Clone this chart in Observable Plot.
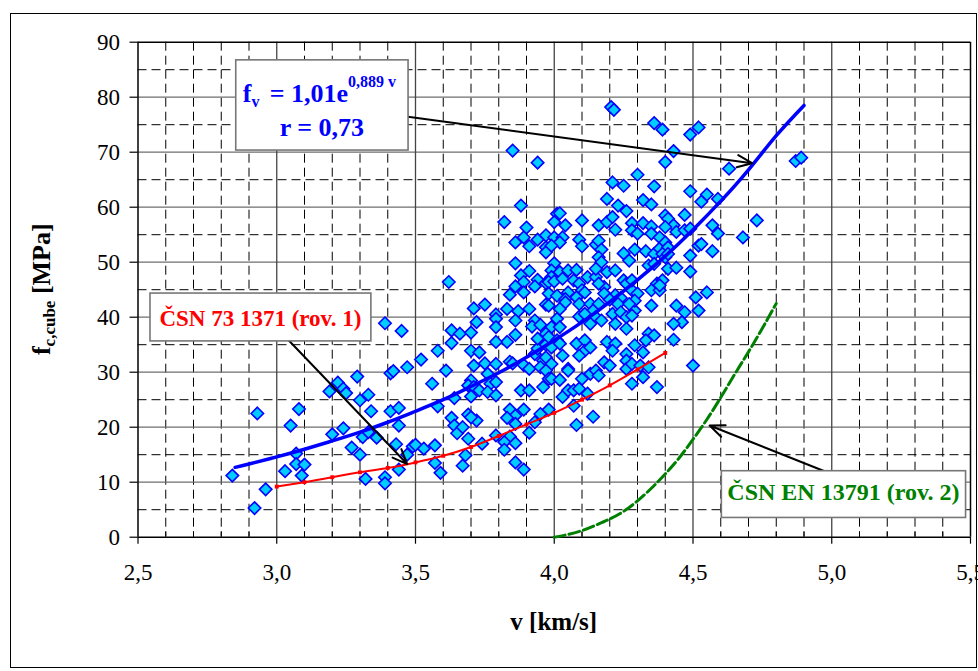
<!DOCTYPE html>
<html><head><meta charset="utf-8">
<script src="https://cdn.jsdelivr.net/npm/d3@7"></script>
<script src="https://cdn.jsdelivr.net/npm/@observablehq/plot@0.6"></script>
<style>
body{margin:0;background:#fff;overflow:hidden;}
#frame{position:absolute;left:10px;top:13px;width:967px;height:655px;border:1.5px solid #000;box-sizing:border-box;}
#chart{position:absolute;left:0;top:0;}
</style></head><body><div id="frame"></div><div id="chart"></div>
<script>
// ---- data ----
const xMajor = [2.5, 3.0, 3.5, 4.0, 4.5, 5.0, 5.5];
const yMajor = [0, 10, 20, 30, 40, 50, 60, 70, 80, 90];
const yMinor = [5, 15, 25, 35, 45, 55, 65, 75, 85];

// measured pairs [v km/s, fc,cube MPa]
const measuredPoints = [
[3.39,38.9],[3.45,37.5],[2.93,22.5],[3.08,23.3],[3.05,20.3],[2.84,11.2],[2.92,5.3],[2.96,8.7],[3.03,12.0],[3.07,15.2],
[3.07,13.3],[3.10,13.2],[3.09,11.2],[3.19,26.5],[3.22,28.1],[3.24,27.0],[3.25,26.2],[3.29,29.2],[3.30,24.9],[3.33,25.9],
[3.34,22.9],[3.20,18.7],[3.24,19.8],[3.27,16.3],[3.30,15.0],[3.31,18.2],[3.33,19.1],[3.36,18.1],[3.32,10.6],[3.39,10.9],
[3.39,9.8],[3.44,12.3],[3.41,29.8],[3.42,30.2],[3.47,30.9],[3.52,32.3],[3.41,22.9],[3.44,23.5],[3.44,20.3],[3.43,16.9],
[3.47,15.0],[3.49,16.5],[3.50,16.8],[3.53,16.1],
[3.85,70.3],[3.94,68.1],[3.88,60.3],[3.82,57.3],[3.90,56.3],[3.86,53.6],[3.89,54.5],[3.91,52.9],[3.94,54.1],[3.97,54.9],
[3.97,52.7],[3.97,51.8],[3.86,49.8],[3.62,46.4],[3.88,47.6],[3.91,48.4],[3.89,46.4],[3.94,46.8],[3.86,45.6],[3.93,45.6],
[3.89,44.5],[3.97,46.2],[3.84,44.1],[3.71,41.6],[3.75,42.3],[3.83,41.5],[3.87,41.1],[3.91,41.5],[3.97,42.3],[3.79,40.5],
[3.79,39.7],[3.72,39.1],[3.86,39.4],[3.93,39.4],[3.92,38.3],[3.95,38.6],
[3.63,37.6],[3.66,37.0],[3.70,37.2],[3.79,38.2],[3.63,35.3],[3.86,36.8],[3.83,35.5],[3.79,35.5],[3.97,35.7],[3.58,33.9],
[3.61,30.3],[3.70,33.9],[3.73,33.6],[3.71,31.2],[3.75,31.6],[3.79,31.5],[3.84,31.9],[3.85,31.6],[3.89,31.3],[3.91,30.6],
[3.56,27.9],[3.70,28.5],[3.69,27.6],[3.71,27.3],[3.73,26.7],[3.70,25.6],[3.76,29.7],[3.77,27.9],[3.79,28.2],[3.76,26.4],
[3.79,25.8],[3.88,26.7],[3.91,26.7],[3.96,27.3],[3.58,23.8],[3.64,25.3],[3.63,21.7],[3.64,20.3],[3.65,18.9],[3.67,20.0],
[3.69,22.3],[3.72,21.2],[3.70,21.8],[3.69,17.9],[3.74,17.0],[3.57,16.7],[3.57,13.5],[3.59,11.7],[3.68,14.9],[3.67,13.0],
[3.84,23.2],[3.86,22.1],[3.89,23.2],[3.86,20.6],[3.83,21.7],[3.79,18.5],[3.84,18.3],[3.82,17.3],[3.86,17.1],[3.82,15.9],
[3.91,19.0],[3.93,20.9],[3.95,22.4],[3.98,23.2],[3.86,13.6],[3.89,12.3],[3.93,33.3],[3.96,32.1],[3.95,30.9],[3.94,34.3],
[3.94,36.1],[3.97,35.0],
[4.205,78.2],[4.215,77.7],[4.36,75.3],[4.39,74.1],[4.40,68.2],[4.30,65.9],[4.21,64.5],[4.25,63.9],[4.36,63.8],[4.19,61.5],
[4.23,60.3],[4.26,59.3],[4.32,61.3],[4.35,60.5],[4.01,58.8],[4.02,58.9],[4.00,57.3],[4.04,56.7],[4.10,57.6],[4.16,56.7],
[4.19,57.3],[4.21,58.2],[4.22,55.9],[4.28,57.1],[4.28,55.8],[4.32,57.1],[4.35,56.5],[4.30,55.2],[4.35,55.2],[4.38,54.5],
[4.40,58.5],[4.00,54.5],[4.03,54.5],[4.02,53.6],[3.99,53.0],[4.09,54.1],[4.10,52.9],[4.15,53.2],[4.16,53.9],[4.17,52.3],
[4.25,51.6],[4.27,50.3],[4.29,52.3],[4.33,52.0],[4.36,51.5],[4.38,52.5],[4.00,49.8],[3.99,48.5],[4.02,48.2],[3.99,47.3],
[3.98,46.4],[4.00,46.5],[4.05,48.5],[4.08,48.6],[4.03,47.0],[4.07,46.7],[4.09,46.1],[4.10,44.9],[4.12,47.3],[4.15,47.3],
[4.16,50.9],[4.17,50.0],[4.15,48.8],[4.18,45.5],[4.16,46.1],[4.19,48.2],[4.22,48.5],[4.25,46.7],[4.26,46.1],[4.28,44.9],
[4.30,44.3],[4.28,46.7],[4.22,44.0],[4.24,43.5],[4.34,49.4],[4.36,49.7],[4.37,46.1],[4.39,46.7],[4.35,44.9],[4.38,44.9],
[3.98,44.3],[4.01,43.9],[4.05,44.5],[4.11,44.5],[4.08,43.6],[4.04,43.3],
[4.04,42.7],[4.02,41.5],[4.01,39.7],[3.99,38.2],[4.02,38.2],[3.98,42.1],[4.18,44.3],[4.09,42.4],[4.13,42.4],[4.16,42.4],
[4.14,41.2],[4.09,40.1],[4.11,40.6],[4.15,40.0],[4.17,39.4],[4.13,38.8],[4.20,43.2],[4.23,42.4],[4.21,40.6],[4.24,40.9],
[4.26,40.0],[4.22,38.8],[4.26,37.9],[4.29,41.2],[4.29,43.0],[4.35,42.1],[4.28,40.3],[4.27,42.4],[4.34,37.0],[4.36,36.7],
[4.33,35.8],[3.97,37.0],[3.98,36.4],[4.01,35.8],[3.99,34.5],[4.02,35.2],[4.03,33.0],[3.97,32.7],[3.99,31.5],[3.97,30.3],
[3.98,28.8],[3.99,28.8],[4.02,28.6],[4.08,35.2],[4.11,35.8],[4.11,33.9],[4.13,34.5],[4.09,33.0],[4.19,35.5],[4.22,35.2],
[4.21,33.9],[4.29,34.9],[4.32,33.6],[4.26,33.3],[4.26,32.1],[4.05,30.6],[4.05,30.3],[4.10,28.8],[4.13,29.7],[4.15,30.3],
[4.18,31.8],[4.16,29.4],[4.20,31.2],[4.26,30.6],[4.28,31.5],[4.31,31.2],[4.32,29.1],[4.34,30.9],[4.28,27.9],[4.37,27.3],
[4.03,25.5],[4.05,26.7],[4.07,26.7],[4.09,27.0],[4.12,26.1],[4.07,23.9],[4.14,21.9],[4.08,20.4],
[4.49,73.2],[4.52,74.5],[4.43,70.2],[4.63,67.0],[4.87,68.4],[4.89,69.0],[4.49,62.9],[4.55,62.3],[4.53,61.0],[4.59,61.5],
[4.41,57.9],[4.47,58.6],[4.43,56.7],[4.44,55.5],[4.40,56.4],[4.47,55.8],[4.49,56.1],[4.57,56.7],[4.59,55.2],[4.73,57.6],
[4.68,54.5],[4.40,53.6],[4.41,52.7],[4.39,51.5],[4.40,50.9],[4.41,51.5],[4.52,53.0],[4.53,53.3],[4.57,52.0],[4.49,51.2],
[4.41,48.8],[4.44,49.0],[4.49,48.3],[4.38,45.8],[4.51,43.6],[4.55,44.5],
[4.52,41.2],[4.44,42.1],[4.47,40.9],[4.46,39.1],[4.43,38.8],[4.43,35.9],[4.50,31.2]
];

// regression curve fv = 1,01e^(0,889 v)
const fitV = [2.85,2.9,3.0,3.1,3.2,3.3,3.4,3.5,3.6,3.7,3.8,3.9,4.0,4.1,4.2,4.3,4.4,4.5,4.6,4.7,4.8,4.9];
const fitF = [12.7,13.3,14.6,16.0,17.5,19.1,20.9,22.9,25.0,27.4,29.9,32.7,35.8,39.1,42.8,46.8,51.1,55.9,61.1,66.8,73.0,78.5];
// ČSN 73 1371 (rov. 1), red
const csnV = [3.0,3.1,3.2,3.3,3.4,3.5,3.6,3.7,3.8,3.9,4.0,4.1,4.2,4.3,4.4];
const csnF = [9.2,10.0,10.9,11.8,12.6,13.6,14.8,16.4,18.4,20.5,22.6,25.0,27.6,30.5,33.5];
// ČSN EN 13791 (rov. 2), green
const enV = [4.0,4.05,4.1,4.15,4.2,4.25,4.3,4.35,4.4,4.45,4.5,4.55,4.6,4.65,4.7,4.75,4.8];
const enF = [0,0.5,1.2,2.2,3.3,4.7,6.6,8.9,11.5,14.4,17.8,21.4,25.4,29.6,33.7,38.0,42.5];

// ---- build ----
const pts = measuredPoints.map(([v, f]) => ({v, f}));
const fit = fitV.map((v, i) => ({v, f: fitF[i]}));
const csn = csnV.map((v, i) => ({v, f: csnF[i]}));
const en = enV.map((v, i) => ({v, f: enF[i]}));
const xMinor = d3.range(26, 55).filter(i => i % 5 !== 0).map(i => i / 10);
const fmt = d => d.toFixed(1).replace(".", ",");
const SERIF = '"Liberation Serif", "Times New Roman", serif';

const eqBox = {x1: 2.854, x2: 3.475, y1: 70.3, y2: 86.7};
const csnBox = {x1: 2.545, x2: 3.341, y1: 35.6, y2: 44.3};
const enBox = {x1: 4.604, x2: 5.484, y1: 3.5, y2: 12.0};
const arrows = [
  {x1: 3.466, y1: 76.5, x2: 4.713, y2: 68.0},
  {x1: 3.041, y1: 35.9, x2: 3.470, y2: 13.3},
  {x1: 4.983, y1: 11.8, x2: 4.560, y2: 20.3}
];

const plot = Plot.plot({
  width: 978, height: 671,
  marginLeft: 137.5, marginRight: 8, marginTop: 41.7, marginBottom: 134.3,
  x: {domain: [2.5, 5.5]},
  y: {domain: [0, 90]},
  style: {fontFamily: SERIF, background: "transparent", color: "#000", overflow: "visible"},
  marks: [
    Plot.ruleY(yMinor, {stroke: "#000", strokeWidth: 1, strokeDasharray: "9,5"}),
    Plot.ruleX(xMinor, {stroke: "#000", strokeWidth: 1, strokeDasharray: "9,5"}),
    Plot.ruleY(yMajor.filter(d => d > 0 && d < 90), {stroke: "#6e6e6e", strokeWidth: 1.3}),
    Plot.ruleX([3.0, 3.5, 4.0, 4.5, 5.0], {stroke: "#444", strokeWidth: 1.3}),
    Plot.ruleY([90], {stroke: "#000", strokeWidth: 1.5}),
    Plot.ruleX([5.5], {stroke: "#000", strokeWidth: 1.5}),
    Plot.ruleX([2.5], {stroke: "#000", strokeWidth: 1.5}),
    Plot.ruleY([0], {stroke: "#000", strokeWidth: 1.5}),
    Plot.ruleX(xMinor, {y1: 0, y2: 1, stroke: "#000", strokeWidth: 1}),
    Plot.axisX(xMajor, {tickSize: 7, tickPadding: 19, fontSize: 23, tickFormat: fmt, label: null, strokeWidth: 1.2}),
    Plot.axisY(yMajor, {tickSize: 8, tickPadding: 10, fontSize: 23, label: null, strokeWidth: 1.2}),
    Plot.dot(pts, {x: "v", y: "f", symbol: "diamond2", r: 5.6, fill: "#00ccff", stroke: "#0000ff", strokeWidth: 1.6}),
    Plot.line(en, {x: "v", y: "f", stroke: "#008000", strokeWidth: 3, strokeDasharray: "11,4", curve: "natural"}),
    Plot.line(csn, {x: "v", y: "f", stroke: "#ff0000", strokeWidth: 2, curve: "natural"}),
    Plot.dot(csn, {x: "v", y: "f", symbol: "square", r: 2.2, fill: "#ff0000"}),
    Plot.line(fit, {x: "v", y: "f", stroke: "#0000ff", strokeWidth: 3.5, curve: "natural"}),
    Plot.arrow(arrows, {x1: "x1", y1: "y1", x2: "x2", y2: "y2", stroke: "#000", strokeWidth: 2, headLength: 12, headAngle: 45}),
    Plot.rect([eqBox, csnBox, enBox], {x1: "x1", x2: "x2", y1: "y1", y2: "y2", fill: "#fff", stroke: "#777", strokeWidth: 1.6})
  ]
});
document.getElementById("chart").appendChild(plot);

// rich-text labels positioned through the plot's own scales
const sx = plot.scale("x"), sy = plot.scale("y");
const X = v => sx.apply(v), Y = f => sy.apply(f);
const svg = d3.select(plot);

// equation box
const eq = svg.append("text").attr("font-family", SERIF).attr("font-weight", "bold").attr("fill", "#0000ff")
  .attr("text-anchor", "start")
  .attr("x", X(eqBox.x1) + 7).attr("y", Y(eqBox.y2) + 42).attr("font-size", 26);
eq.append("tspan").text("f");
eq.append("tspan").attr("font-size", 16).attr("dy", 5).text("v");
eq.append("tspan").attr("x", X(eqBox.x1) + 34).attr("dy", -5).text("= 1,01e");
eq.append("tspan").attr("font-size", 16).attr("dy", -15).text("0,889 v");
svg.append("text").attr("font-family", SERIF).attr("font-weight", "bold").attr("fill", "#0000ff")
  .attr("font-size", 26).attr("text-anchor", "middle")
  .attr("x", (X(eqBox.x1) + X(eqBox.x2)) / 2).attr("y", Y(eqBox.y2) + 76).text("r = 0,73");

// norm labels
svg.append("text").attr("font-family", SERIF).attr("font-weight", "bold").attr("fill", "#ff0000")
  .attr("font-size", 23).attr("text-anchor", "middle")
  .attr("x", (X(csnBox.x1) + X(csnBox.x2)) / 2).attr("y", Y(csnBox.y1) - 15).text("ČSN 73 1371 (rov. 1)");
svg.append("text").attr("font-family", SERIF).attr("font-weight", "bold").attr("fill", "#008000")
  .attr("font-size", 24).attr("text-anchor", "middle")
  .attr("x", (X(enBox.x1) + X(enBox.x2)) / 2).attr("y", Y(enBox.y1) - 17).text("ČSN EN 13791 (rov. 2)");

// axis titles
svg.append("text").attr("font-family", SERIF).attr("font-weight", "bold").attr("font-size", 25)
  .attr("text-anchor", "middle").attr("x", (X(2.5) + X(5.5)) / 2).attr("y", 630).text("v [km/s]");
const yt = svg.append("text").attr("font-family", SERIF).attr("font-weight", "bold").attr("font-size", 26)
  .attr("text-anchor", "middle").attr("transform", `translate(50,${(Y(0) + Y(90)) / 2}) rotate(-90)`);
yt.append("tspan").text("f");
yt.append("tspan").attr("font-size", 17).attr("dy", 5).text("c,cube");
yt.append("tspan").attr("dy", -5).text(" [MPa]");
</script></body></html>
